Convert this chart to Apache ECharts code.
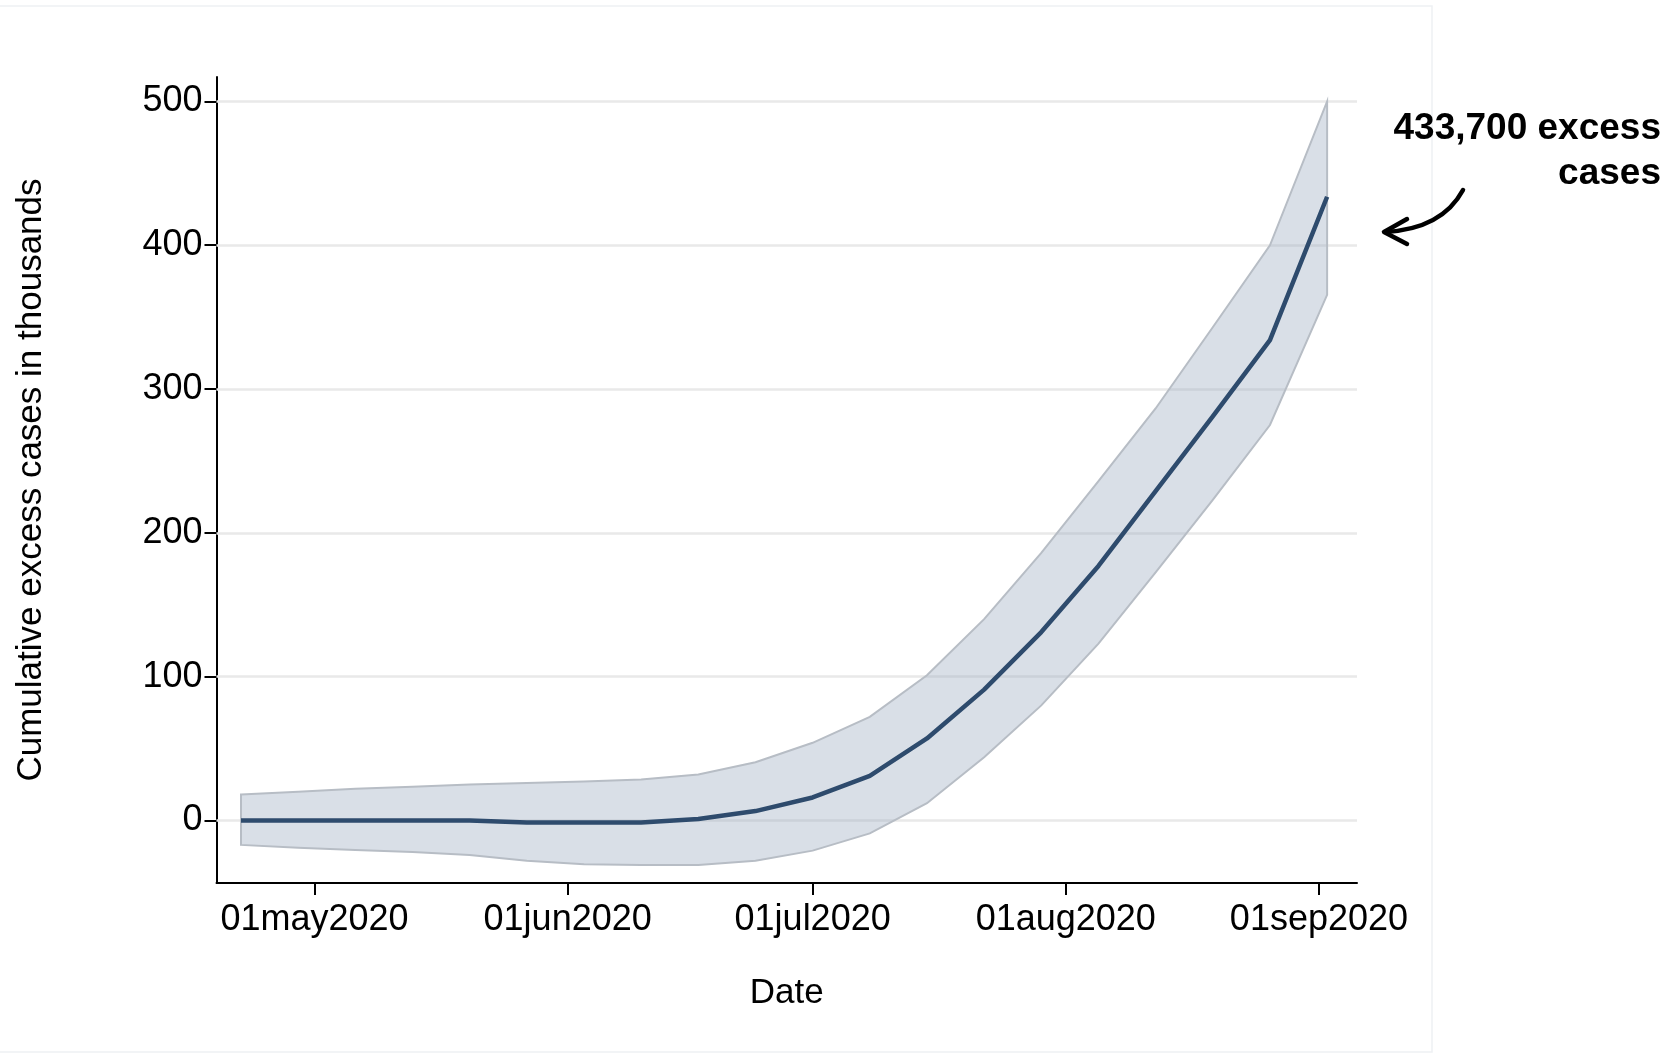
<!DOCTYPE html>
<html>
<head>
<meta charset="utf-8">
<title>Cumulative excess cases</title>
<script src="https://cdn.jsdelivr.net/npm/echarts@6/dist/echarts.min.js"></script>
<style>
  html, body { margin: 0; padding: 0; background: #ffffff; }
  #chart { width: 1672px; height: 1056px; }
</style>
</head>
<body>
<div id="chart"></div>
<script>
// Weekly estimates of cumulative excess cases (thousands) with confidence band
const weekDates = ['2020-04-22','2020-04-29','2020-05-06','2020-05-13','2020-05-20','2020-05-27',
  '2020-06-03','2020-06-10','2020-06-17','2020-06-24','2020-07-01','2020-07-08','2020-07-15',
  '2020-07-22','2020-07-29','2020-08-05','2020-08-12','2020-08-19','2020-08-26','2020-09-02'];
const excess = [0, 0, 0, 0, 0, -1.5, -1.5, -1.5, 1, 6.5, 16, 31, 57, 91, 131, 177, 229, 281, 334, 433.7];
const upper  = [18, 20, 22, 23.5, 25, 26, 27, 28.5, 32, 40.5, 54, 72, 101, 140, 186, 236, 286.5, 343, 400, 500];
const lower  = [-17, -19, -20.5, -22, -24, -28, -30.5, -31, -31, -28, -21, -9, 12, 44, 80, 123, 172.5, 223, 275, 365.5];

// Axis ticks
const xTickDates  = ['2020-05-01','2020-06-01','2020-07-01','2020-08-01','2020-09-01'];
const xTickLabels = ['01may2020','01jun2020','01jul2020','01aug2020','01sep2020'];
const yTickValues = [0, 100, 200, 300, 400, 500];

// dates are handled as day numbers counted from 1 Jan 2020
const DAY = 86400000;
const ORIGIN = Date.UTC(2020, 0, 1);
const toDay = s => { const p = s.split('-').map(Number); return (Date.UTC(p[0], p[1] - 1, p[2]) - ORIGIN) / DAY; };
const t = weekDates.map(toDay);
const xTickDays = xTickDates.map(toDay);

const FONT = '"Liberation Sans", Arial, Helvetica, sans-serif';
const last = excess.length - 1;
const annotation = Math.round(excess[last] * 1000).toLocaleString('en-US') + ' excess';

const chart = echarts.init(document.getElementById('chart'), null, { renderer: 'canvas' });

chart.setOption({
  animation: false,
  backgroundColor: '#ffffff',
  textStyle: { fontFamily: FONT },
  grid: { left: 216.5, right: 315, top: 77, bottom: 173, containLabel: false },
  xAxis: {
    type: 'value',
    min: toDay('2020-04-19'),
    max: toDay('2020-09-05') + 0.66,
    axisLine: { show: true, onZero: false, lineStyle: { color: '#000', width: 2 } },
    axisTick: { show: true, length: 12, customValues: xTickDays, lineStyle: { color: '#000', width: 2 } },
    axisLabel: {
      customValues: xTickDays,
      formatter: v => { const i = xTickDays.indexOf(v); return i >= 0 ? xTickLabels[i] : ''; },
      fontSize: 36, color: '#000', margin: 19, fontFamily: FONT
    },
    splitLine: { show: false },
    name: 'Date', nameLocation: 'middle', nameGap: 93,
    nameTextStyle: { fontSize: 35, color: '#000', fontFamily: FONT }
  },
  yAxis: {
    type: 'value',
    min: -43.5, max: 517,
    axisLine: { show: true, lineStyle: { color: '#000', width: 2 } },
    axisTick: { show: true, length: 12, customValues: yTickValues, lineStyle: { color: '#000', width: 2 } },
    axisLabel: { customValues: yTickValues, fontSize: 36, color: '#000', margin: 14, fontFamily: FONT },
    splitLine: { show: false },
    name: 'Cumulative excess cases in thousands', nameLocation: 'middle', nameGap: 168,
    nameTextStyle: { fontSize: 35, color: '#000', fontFamily: FONT }
  },
  series: [
    {
      // horizontal reference lines at each labelled tick
      type: 'line', data: [], z: 1, silent: true,
      markLine: {
        z: 1, silent: true, symbol: 'none', animation: false,
        label: { show: false },
        lineStyle: { color: '#e9e9e9', width: 2.5, type: 'solid' },
        data: yTickValues.map(v => ({ yAxis: v }))
      }
    },
    {
      // confidence band drawn as one polygon
      type: 'custom', z: 2, silent: true, clip: false,
      data: t.map((x, i) => [x, lower[i], upper[i]]),
      encode: { x: 0, y: [1, 2] },
      renderItem: (params, api) => {
        if (params.dataIndex !== 0) return null;
        const top = t.map((x, i) => api.coord([x, upper[i]]));
        const bot = t.map((x, i) => api.coord([x, lower[i]])).reverse();
        return {
          type: 'polygon',
          shape: { points: top.concat(bot) },
          style: { fill: 'rgba(150,166,188,0.36)', stroke: '#b7bdc5', lineWidth: 2 }
        };
      }
    },
    {
      type: 'line', z: 3, silent: true,
      data: t.map((x, i) => [x, excess[i]]),
      symbol: 'none', showSymbol: false,
      lineStyle: { color: '#2e4b6d', width: 4.5 }
    }
  ],
  graphic: [
    { type: 'rect', z: -10, silent: true,
      shape: { x: -2, y: 6, width: 1434, height: 1046 },
      style: { fill: 'none', stroke: '#eef1f4', lineWidth: 1.5 } },
    { type: 'text', x: 1661, y: 129, silent: true,
      style: { text: annotation, font: 'bold 37px ' + FONT, fill: '#000', align: 'right', verticalAlign: 'middle' } },
    { type: 'text', x: 1661, y: 174, silent: true,
      style: { text: 'cases', font: 'bold 37px ' + FONT, fill: '#000', align: 'right', verticalAlign: 'middle' } },
    { type: 'bezierCurve', silent: true,
      shape: { x1: 1463, y1: 190, x2: 1385, y2: 232, cpx1: 1442, cpy1: 229 },
      style: { stroke: '#000', lineWidth: 4.5, fill: null, lineCap: 'round' } },
    { type: 'polyline', silent: true,
      shape: { points: [[1407, 219], [1384, 232], [1407, 244]] },
      style: { stroke: '#000', lineWidth: 4.5, fill: null, lineCap: 'round', lineJoin: 'round' } }
  ]
});
</script>
</body>
</html>
